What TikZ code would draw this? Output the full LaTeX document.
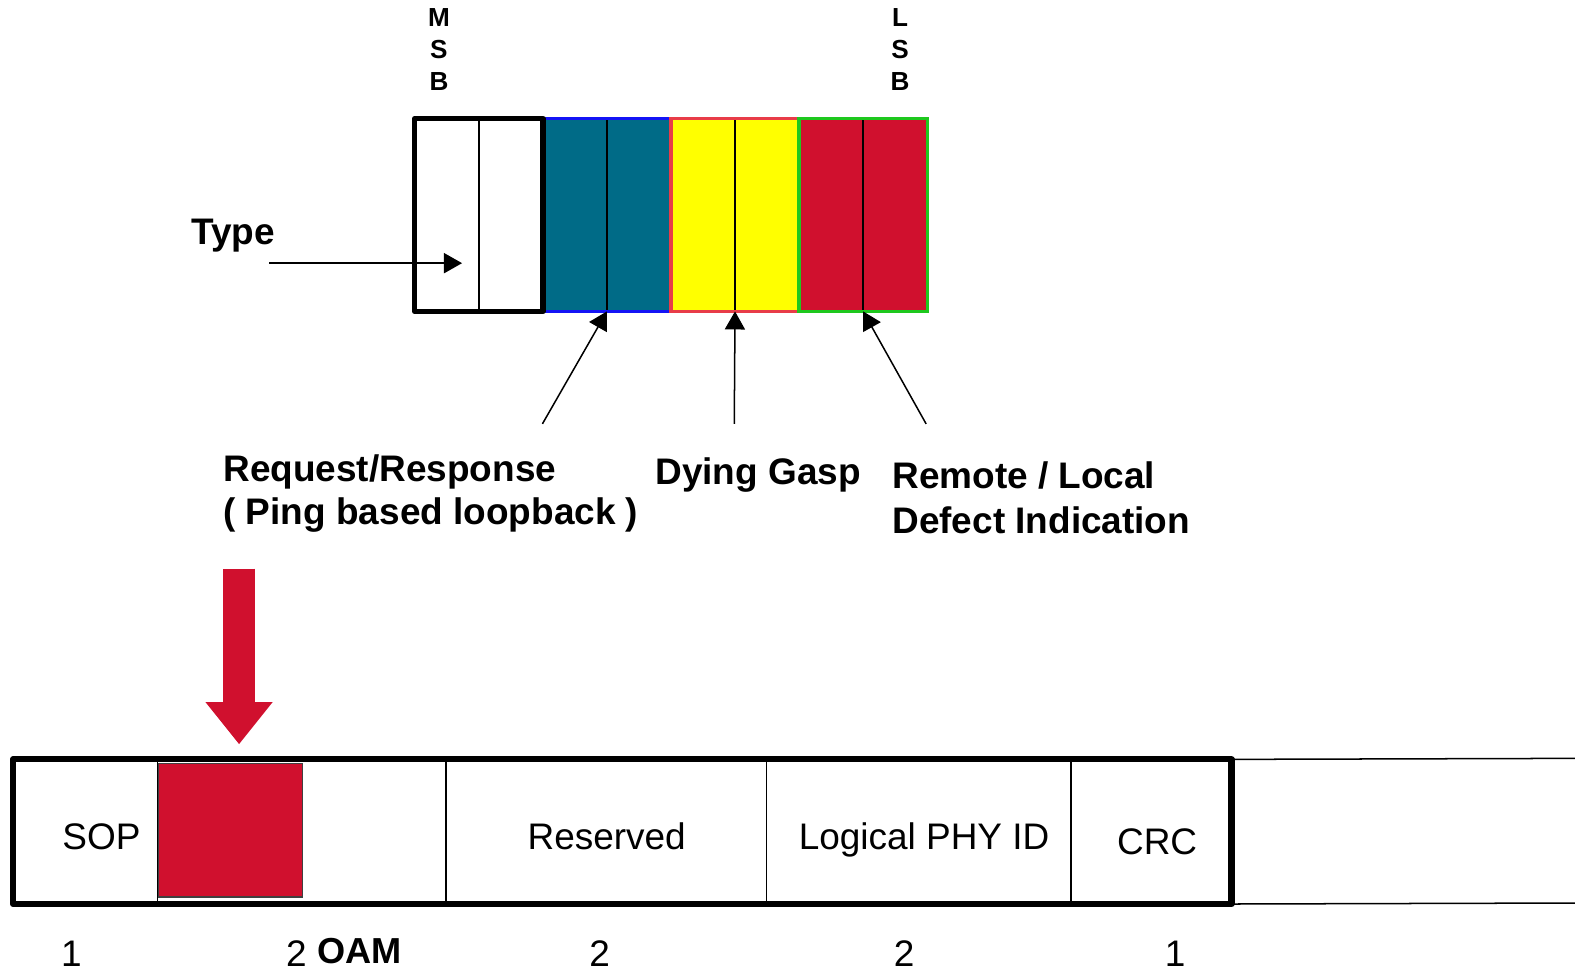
\documentclass[tikz,border=0pt]{standalone}
\usepackage{fontspec}
\setmainfont{Liberation Sans}
\usetikzlibrary{arrows.meta,positioning}

\definecolor{bitteal}{RGB}{0,107,135}
\definecolor{bityellow}{RGB}{255,255,0}
\definecolor{bitred}{RGB}{208,16,46}
\definecolor{grpblue}{RGB}{20,20,245}
\definecolor{grpred}{RGB}{232,60,72}
\definecolor{grpgreen}{RGB}{30,200,30}

\begin{document}
\begin{tikzpicture}[x=0.5pt, y=-0.5pt,
    bit/.style={draw, line width=0.7pt, minimum width=31.875pt, minimum height=96pt,
        inner sep=0pt, outer sep=0pt},
    field/.style={minimum height=72pt, inner sep=0pt, outer sep=0pt},
    lbl/.style={font=\fontsize{18.4}{22}\selectfont\bfseries, anchor=base west, inner sep=0pt},
    txt/.style={font=\fontsize{18.4}{22}\selectfont, anchor=base, inner sep=0pt},
    pointer/.style={-{Triangle[length=9pt,width=10pt]}, line width=0.75pt}]
    \useasboundingbox (0,0) rectangle (1568,966.7);

    % flag byte, MSB on the left
    \foreach \i/\col in {0/white,1/white,2/bitteal,3/bitteal,4/bityellow,5/bityellow,6/bitred,7/bitred}
        \node[bit, fill=\col] (b\i) at (444.875+63.75*\i,214) {};
    \draw[grpblue, line width=1.6pt] (b2.north west) rectangle (b3.south east);
    \draw[grpred, line width=1.6pt] (b4.north west) rectangle (b5.south east);
    \draw[grpgreen, line width=1.6pt] (b6.north west) rectangle (b7.south east);
    \draw[line width=2.6pt, line join=round] (b0.north west) rectangle (b1.south east);

    \node[font=\fontsize{13}{16}\selectfont\bfseries, align=center, inner sep=0pt] (msb) at (437,49) {M\\S\\B};
    \node[font=\fontsize{13}{16}\selectfont\bfseries, align=center, inner sep=0pt] (lsb) at (896,49) {L\\S\\B};

    \node[lbl] (type) at (190,243) {Type};
    \coordinate (typetail) at (268,262);
    \coordinate (typetip) at (460,262);
    \draw[pointer] (typetail) -- (typetip);

    \node[lbl] (reqresp) at (222,479) {Request/Response};
    \node[lbl] (ping) at (222,522) {( Ping based loopback )};
    \node[lbl] (gasp) at (652,482) {Dying Gasp};
    \node[lbl] (remote) at (888,486) {Remote / Local};
    \node[lbl] (defect) at (888,531) {Defect Indication};

    \coordinate (rrtail) at (540,422);
    \coordinate (gasptail) at (731,422);
    \coordinate (rdtail) at (922,422);
    \draw[pointer] (rrtail) -- (b3.south west);
    \draw[pointer] (gasptail) -- (b5.south west);
    \draw[pointer] (rdtail) -- (b7.south west);

    % big red arrow down to the OAM field
    \coordinate (downtail) at (238,566);
    \coordinate (downtip) at (238,741);
    \draw[bitred, line width=15.5pt, -{Triangle[length=21pt,width=32pt]}] (downtail) -- (downtip);

    % frame
    \foreach \n/\a/\b in {sop/13/157, oam/157/444, resv/444/763, phy/763/1066, crc/1066/1226}{
        \pgfmathsetmacro\w{(\b-\a)/2}
        \node[field, minimum width=\w pt] (\n) at ({(\a+\b)/2},828) {};
    }
    \node[fill=bitred, draw=black!75, line width=0.6pt, minimum width=71.5pt, minimum height=66.5pt,
        inner sep=0pt, outer sep=0pt] (oamflag) at (229.5,826.5) {};
    \foreach \n in {sop,oam,resv,phy}
        \draw[line width=0.75pt] (\n.north east) -- (\n.south east);
    \draw[line width=3pt, line join=round] (sop.north west) rectangle (crc.south east);
    \coordinate (restop) at (1568,755);
    \coordinate (resbot) at (1568,899);
    \draw[line width=0.75pt] (crc.north east) -- (restop);
    \draw[line width=0.75pt] (crc.south east) -- (resbot);

    \node[txt] (soptxt) at (101,846) {SOP};
    \node[txt] (resvtxt) at (604,846) {Reserved};
    \node[txt] (phytxt) at (920,846) {Logical PHY ID};
    \node[txt] (crctxt) at (1152,851) {CRC};

    % field lengths
    \node[txt] (len1) at (71,962) {1};
    \node[txt] (len2) at (295,962) {2};
    \node[txt, font=\fontsize{18}{22}\selectfont\bfseries] (oamtxt) at (358,959) {OAM};
    \node[txt] (len3) at (597,962) {2};
    \node[txt] (len4) at (900,962) {2};
    \node[txt] (len5) at (1170,962) {1};
\end{tikzpicture}
\end{document}
